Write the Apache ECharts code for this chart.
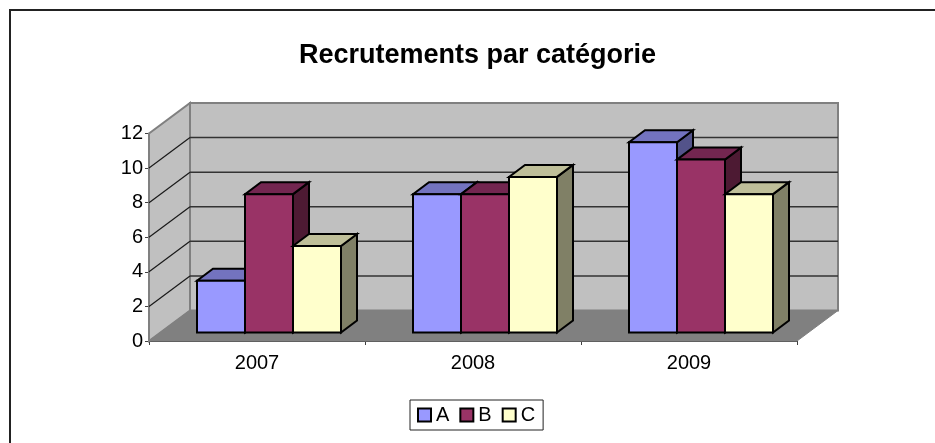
<!DOCTYPE html>
<html><head><meta charset="utf-8">
<style>html,body{margin:0;padding:0;background:#fff;overflow:hidden}#c{width:935px;height:443px}</style>
<script src="https://cdn.jsdelivr.net/npm/echarts@6/dist/echarts.min.js"></script>
</head><body><div id="c"></div>
<script>
const categories = ['2007','2008','2009'];
const seriesA = [3,8,11];
const seriesB = [8,8,10];
const seriesC = [5,9,8];
const yTicks = [0,2,4,6,8,10,12];

const WALL = {dx:41, dy:-30.5};
const BAR_OFF = {dx:12, dy:-8.5};
const BAR_D = {dx:16, dy:-12};
const faces = {
  A:{front:'#9999FF',top:'#7373BF',side:'#53538A'},
  B:{front:'#993366',top:'#732650',side:'#4D1A33'},
  C:{front:'#FFFFCC',top:'#BFBF99',side:'#808066'}
};
const poly=(pts,fill,stroke,lw)=>({type:'polygon',shape:{points:pts},style:{fill:fill,stroke:stroke||null,lineWidth:lw||0}});
const line=(a,b,stroke,lw)=>({type:'line',shape:{x1:a[0],y1:a[1],x2:b[0],y2:b[1]},style:{stroke:stroke,lineWidth:lw}});

function wallsRender(params,api){
  const g=params.coordSys, L=g.x, R=g.x+g.width;
  const y0=api.coord([0,0])[1], yT=api.coord([0,12])[1];
  const d=WALL, kids=[];
  kids.push(poly([[L,y0],[L,yT],[L+d.dx,yT+d.dy],[L+d.dx,y0+d.dy]],'#C0C0C0','#808080',2));
  kids.push(poly([[L+d.dx,yT+d.dy],[R+d.dx,yT+d.dy],[R+d.dx,y0+d.dy],[L+d.dx,y0+d.dy]],'#C0C0C0','#808080',2));
  kids.push(poly([[L,y0],[R,y0],[R+d.dx,y0+d.dy],[L+d.dx,y0+d.dy]],'#808080','#808080',1));
  yTicks.slice(1,-1).forEach(v=>{
    const y=api.coord([0,v])[1];
    kids.push(line([L,y],[L+d.dx,y+d.dy],'#1a1a1a',1.2));
    kids.push(line([L+d.dx,y+d.dy],[R+d.dx,y+d.dy],'#333',1.5));
  });
  return {type:'group',children:kids};
}

function barRender(key,idx){
  return function(params,api){
    const cat=api.value(0), val=api.value(1);
    const c=api.coord([cat,val]), b=api.coord([cat,0]);
    const band=api.size([1,0])[0], w=band*2/9;
    const x0=c[0]-1.5*w+idx*w+BAR_OFF.dx, x1=x0+w;
    const yt=c[1]+BAR_OFF.dy, yb=b[1]+BAR_OFF.dy;
    const d=BAR_D, f=faces[key], lw=2;
    return {type:'group',children:[
      poly([[x1,yb],[x1,yt],[x1+d.dx,yt+d.dy],[x1+d.dx,yb+d.dy]],f.side,'#000',lw),
      poly([[x0,yt],[x1,yt],[x1+d.dx,yt+d.dy],[x0+d.dx,yt+d.dy]],f.top,'#000',lw),
      poly([[x0,yb],[x0,yt],[x1,yt],[x1,yb]],f.front,'#000',lw)
    ]};
  };
}
const toData=a=>a.map((v,i)=>[i,v]);
const chart=echarts.init(document.getElementById('c'),null,{renderer:'canvas'});
const mk=(name,key,idx,arr)=>({type:'custom',name:name,renderItem:barRender(key,idx),data:toData(arr),
  encode:{x:0,y:1},clip:false,z:5+idx,itemStyle:{color:faces[key].front,borderColor:'#000',borderWidth:2}});
chart.setOption({
  animation:false,
  textStyle:{fontFamily:'"Liberation Sans",Arial,sans-serif',color:'#000'},
  title:{text:'Recrutements par catégorie',left:294,top:37,
    textStyle:{fontFamily:'"Liberation Sans"',fontSize:27,fontWeight:'bold',color:'#000'}},
  legend:{data:['A','B','C'],left:410,top:400,padding:[5,8,5,7],orient:'horizontal',itemGap:10,itemWidth:13,itemHeight:13,icon:'rect',
    borderColor:'#222',borderWidth:1,
    itemStyle:{borderColor:'#000',borderWidth:2},
    textStyle:{fontFamily:'"Liberation Sans"',fontSize:20,color:'#000'}},
  grid:{left:149,top:133.5,width:648,height:207.5,containLabel:false},
  xAxis:{type:'category',data:categories,boundaryGap:true,
    axisLine:{show:true,lineStyle:{color:'#404040',width:1}},
    axisTick:{show:true,length:4,lineStyle:{color:'#404040'}},
    axisLabel:{fontSize:20,color:'#000',margin:12,fontFamily:'"Liberation Sans"'}},
  yAxis:{type:'value',min:0,max:12,interval:2,
    axisLine:{show:true,lineStyle:{color:'#404040',width:1.5}},
    axisTick:{show:true,length:4,lineStyle:{color:'#404040'}},
    splitLine:{show:false},
    axisLabel:{fontSize:20,color:'#000',margin:6,padding:[4,0,0,0],fontFamily:'"Liberation Sans"'}},
  graphic:[{type:'rect',silent:true,z:-10,shape:{x:10,y:10,width:1200,height:800},style:{fill:'#fff',stroke:'#222',lineWidth:2}}],
  series:[
    {type:'custom',name:'walls',renderItem:wallsRender,data:[[0,0]],encode:{x:0,y:1},clip:false,z:1,silent:true},
    mk('A','A',0,seriesA),mk('B','B',1,seriesB),mk('C','C',2,seriesC)
  ]
});
</script></body></html>
